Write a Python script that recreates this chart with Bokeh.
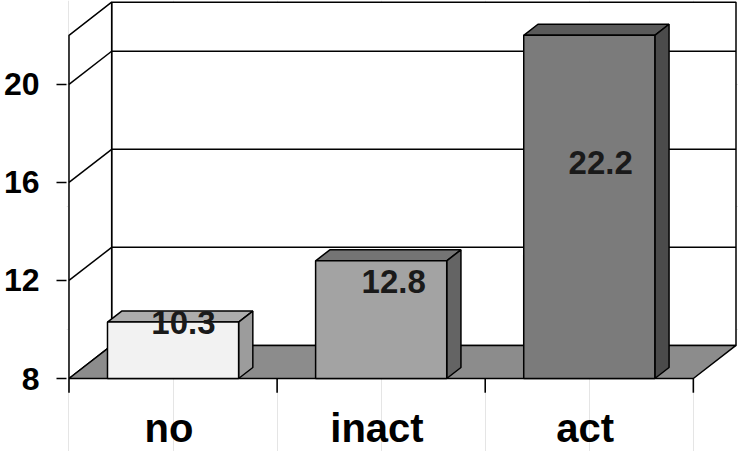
from bokeh.plotting import figure
from bokeh.models import Range1d, FixedTicker, LinearAxis
from bokeh.core.properties import value
from bokeh.embed import file_html
from bokeh.resources import INLINE
import numpy as np

# ---- data ----
categories = ["no", "inact", "act"]
values = [10.3, 12.8, 22.2]
y_ticks = [8, 12, 16, 20]
y_min, y_max = 8, 22

# ---- label placement (data units) ----
label_y = [10.3, 11.95, 16.8]
label_dx = [0.05, 0.06, 0.055]
cat_label_y = 6.0      # vertical centre of category names (below the floor)
sep_tick_len = 0.58    # length of category separator ticks

# ---- 3D styling ----
DX, DY = 0.205, 1.35          # depth of the chart box
BAR_W = 0.63
BAR_DEPTH = 1.0 / 3.0
front_cols = ["#f2f2f2", "#a3a3a3", "#7b7b7b"]
top_cols = ["#adadad", "#747474", "#5a5a5a"]
side_cols = ["#9c9c9c", "#646464", "#4b4b4b"]
floor_col = "#8c8c8c"
LW = 1.5
FONT = "Liberation Sans"

W, H = 738, 451
FLOOR_PX = 378          # pixel row (from top) of the front floor edge
n = len(categories)
xc = np.arange(n, dtype=float)
x0, x1 = -0.5, n - 0.5
x_start, x_end = x0 - 0.012, x1 + DX + 0.012
y_end = y_max + DY + 0.07
y_start = y_min - (y_end - y_min) * (H - FLOOR_PX) / FLOOR_PX

p = figure(width=W, height=H, output_backend="svg", toolbar_location=None,
           x_range=Range1d(x_start, x_end),
           y_range=Range1d(y_start, y_end),
           min_border_left=0, min_border_right=0, min_border_top=0, min_border_bottom=0,
           x_axis_location=None, y_axis_location=None)
p.outline_line_color = None
p.background_fill_color = "white"
p.border_fill_color = "white"

# category separator ticks below the floor (drawn first, as thin polygons)
seps = [i - 0.5 for i in range(n + 1)]
tw = 0.8 * (x_end - x_start) / 672.0
p.patches([[s - tw, s + tw, s + tw, s - tw] for s in seps],
          [[y_min, y_min, y_min - sep_tick_len, y_min - sep_tick_len] for _ in seps],
          fill_color="black", line_color=None)

# back wall
p.quad(left=[x0 + DX], right=[x1 + DX], bottom=[y_min + DY], top=[y_max + DY],
       fill_color="white", line_color="black", line_width=LW)
# left wall
p.patch([x0, x0, x0 + DX, x0 + DX], [y_min, y_max, y_max + DY, y_min + DY],
        fill_color="white", line_color="black", line_width=LW)
# grid lines on walls
g = y_ticks[1:]
p.multi_line(xs=[[x0 + DX, x1 + DX] for _ in g], ys=[[t + DY, t + DY] for t in g],
             line_color="black", line_width=LW)
p.multi_line(xs=[[x0, x0 + DX] for _ in g], ys=[[t, t + DY] for t in g],
             line_color="black", line_width=LW)
# floor
p.patch([x0, x1, x1 + DX, x0 + DX], [y_min, y_min, y_min + DY, y_min + DY],
        fill_color=floor_col, line_color="black", line_width=LW)

# bars
h = np.minimum(np.array(values), y_max)
bdx, bdy = DX * BAR_DEPTH, DY * BAR_DEPTH
lefts = xc - BAR_W / 2
rights = xc + BAR_W / 2
top_xs = [[l, r, r + bdx, l + bdx] for l, r in zip(lefts, rights)]
top_ys = [[t, t, t + bdy, t + bdy] for t in h]
side_xs = [[r, r + bdx, r + bdx, r] for r in rights]
side_ys = [[y_min, y_min + bdy, t + bdy, t] for t in h]
p.patches(top_xs, top_ys, fill_color=top_cols, line_color="black", line_width=LW)
p.patches(side_xs, side_ys, fill_color=side_cols, line_color="black", line_width=LW)
p.quad(left=lefts, right=rights, bottom=y_min, top=h, fill_color=front_cols,
       line_color="black", line_width=LW)

# value labels
p.text(x=xc + np.array(label_dx), y=label_y, text=[f"{v:.1f}" for v in values],
       text_font=value(FONT), text_font_style="bold", text_font_size="33px",
       text_align="center", text_baseline="middle", text_color="#1a1a1a")

# category names
p.text(x=xc - 0.02, y=[cat_label_y] * n, text=categories,
       text_font=value(FONT), text_font_style="bold", text_font_size="40px",
       text_align="center", text_baseline="middle", text_color="black")

# y axis
yaxis = LinearAxis(ticker=FixedTicker(ticks=y_ticks, minor_ticks=[]),
                   axis_line_color=None, major_tick_out=10, major_tick_in=0,
                   major_tick_line_color="black", major_tick_line_width=LW,
                   minor_tick_line_color=None,
                   major_label_text_font=FONT, major_label_text_font_style="bold",
                   major_label_text_font_size="32px", major_label_text_color="black",
                   major_label_standoff=17)
p.add_layout(yaxis, "left")

open("out.html", "w").write(file_html(p, INLINE))
